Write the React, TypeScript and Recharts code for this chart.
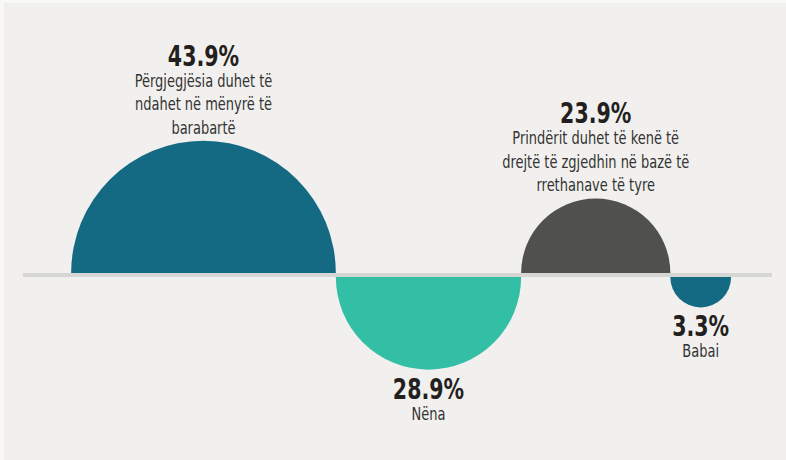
import React from "react";
import { BarChart, Bar, XAxis, YAxis, ReferenceLine } from "recharts";

// ---- data ----
const categoryLines: string[][] = [
  ["Përgjegjësia duhet të", "ndahet në mënyrë të", "barabartë"],
  ["Nëna"],
  ["Prindërit duhet të kenë të", "drejtë të zgjedhin në bazë të", "rrethanave të tyre"],
  ["Babai"],
];
const percentValues: number[] = [43.9, 28.9, 23.9, 3.3];
// drawn span of each half-disc along the baseline (axis units)
const arcSpans: number[] = [44, 30.8, 24.8, 10.1];
const seriesColors: string[] = ["#146a82", "#33bea6", "#50504f", "#146a82"];

const W = 786;
const H = 460;
const FONT = "'DejaVu Sans Condensed', 'DejaVu Sans', sans-serif";

const row: Record<string, string | number> = { row: "all" };
arcSpans.forEach((v, i) => {
  row[`s${i}`] = v;
});
const chartData = [row];

const isUp = (i: number) => i % 2 === 0;

const HalfDisc = (i: number) => (props: any) => {
  const { x, y, width, height, fill } = props;
  if (width == null || width <= 0) return null;
  const r = width / 2;
  const yb = y + height / 2;
  const d = isUp(i)
    ? `M ${x} ${yb - 2} A ${r} ${r} 0 0 1 ${x + width} ${yb - 2} Z`
    : `M ${x} ${yb + 2} A ${r} ${r} 0 0 0 ${x + width} ${yb + 2} Z`;
  return <path d={d} fill={fill} />;
};

const Squeezed = ({ cx, s, children }: { cx: number; s: number; children: React.ReactNode }) => (
  <g transform={`translate(${cx} 0) scale(${s} 1) translate(${-cx} 0)`}>{children}</g>
);

const PctText = ({ cx, y, t }: { cx: number; y: number; t: string }) => (
  <Squeezed cx={cx} s={0.83}>
    <text x={cx} y={y} textAnchor="middle" fontFamily={FONT} fontWeight={700} fontSize={27.5} fill="#231f20">
      {t}
    </text>
  </Squeezed>
);

const LineText = ({ cx, y, t }: { cx: number; y: number; t: string }) => (
  <Squeezed cx={cx} s={0.85}>
    <text x={cx} y={y} textAnchor="middle" fontFamily={FONT} fontSize={17} fill="#333333">
      {t}
    </text>
  </Squeezed>
);

const DiscLabel = (i: number) => (props: any) => {
  const vb = props.viewBox ?? props;
  const x = Number(vb.x);
  const y = Number(vb.y);
  const width = Number(vb.width);
  const height = Number(vb.height);
  if (!isFinite(x) || !isFinite(width)) return null;
  const cx = x + width / 2;
  const yb = y + height / 2;
  const r = width / 2;
  const lines = categoryLines[i];
  const pct = `${percentValues[i].toFixed(1)}%`;
  const lh = 23.5;
  if (isUp(i)) {
    const lastBase = yb - 2 - r - 7;
    const firstBase = lastBase - lh * (lines.length - 1);
    const pctBase = firstBase - 21;
    return (
      <g>
        <PctText cx={cx} y={pctBase} t={pct} />
        {lines.map((t, k) => (
          <LineText key={k} cx={cx} y={firstBase + k * lh} t={t} />
        ))}
      </g>
    );
  }
  const pctBase = yb + 2 + r + 29;
  return (
    <g>
      <PctText cx={cx} y={pctBase} t={pct} />
      {lines.map((t, k) => (
        <LineText key={k} cx={cx} y={pctBase + 21 + k * lh} t={t} />
      ))}
    </g>
  );
};

export default function App() {
  return (
    <div style={{ position: "absolute", left: 0, top: 0, width: W, height: H, background: "#f8f8f7" }}>
      <div style={{ position: "absolute", left: 4, top: 3, width: W - 4, height: H - 3, background: "#f1f0ee" }} />
      <div style={{ position: "absolute", left: 0, top: 0 }}>
        <BarChart
          width={W}
          height={H}
          data={chartData}
          layout="vertical"
          barCategoryGap={0}
          margin={{ top: 90, right: 14, bottom: 0, left: 23 }}
        >
          <XAxis type="number" hide domain={[-8, 116.5]} allowDataOverflow />
          <YAxis type="category" dataKey="row" hide />
          <ReferenceLine y="all" stroke="#d6d6d4" strokeWidth={4} />
          {arcSpans.map((_, i) => (
            <Bar
              key={i}
              dataKey={`s${i}`}
              stackId="a"
              fill={seriesColors[i]}
              isAnimationActive={false}
              shape={HalfDisc(i)}
              label={DiscLabel(i)}
            />
          ))}
        </BarChart>
      </div>
    </div>
  );
}
